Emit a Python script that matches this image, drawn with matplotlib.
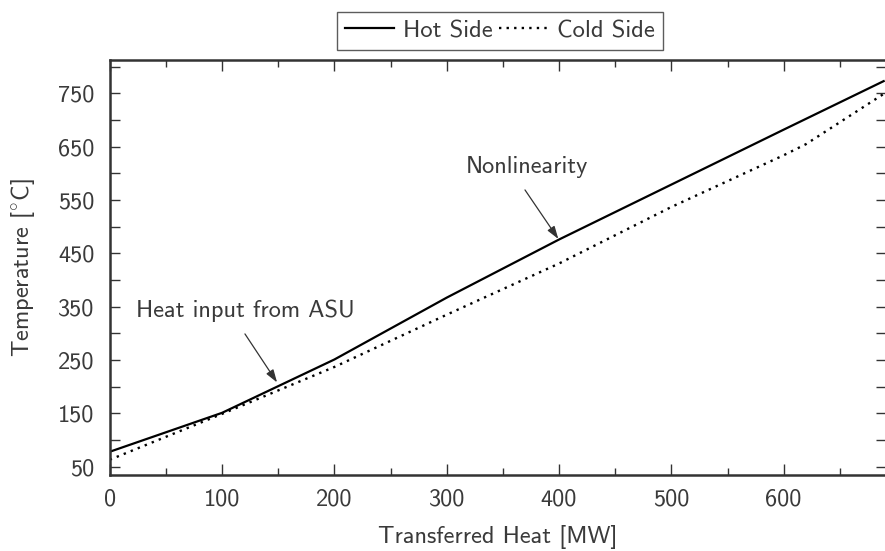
import matplotlib
matplotlib.use("Agg")
import matplotlib.pyplot as plt
from matplotlib.ticker import MultipleLocator, FixedLocator

# ---- data ----
heat_hot = [0, 100, 200, 300, 400, 500, 600, 689]
temp_hot = [78, 151, 251, 367, 476, 579, 682, 773]
heat_cold = [0, 100, 200, 300, 400, 500, 600, 620, 689]
temp_cold = [63, 149, 237, 335, 431, 537, 634, 655, 749]
series_names = ["Hot Side", "Cold Side"]
x_label = "Transferred Heat [MW]"
y_label = r"Temperature [$^{\circ}$C]"
x_ticks = [0, 100, 200, 300, 400, 500, 600]
y_ticks = [50, 150, 250, 350, 450, 550, 650, 750]
# (text, text position, arrow start, arrow tip) in data units
annot_texts = ["Heat input from ASU", "Nonlinearity"]
annot_text_pos = [(120.5, 342), (371, 612)]
annot_arrow_start = [(120.4, 299), (369.7, 569)]
annot_arrow_tip = [(149, 208), (399.4, 477)]

TXT = "#3a3a3a"
FS = 17.5
plt.rcParams["font.family"] = ["cmss10", "DejaVu Sans"]
plt.rcParams["mathtext.fontset"] = "cm"
plt.rcParams["axes.unicode_minus"] = False
plt.rcParams["font.size"] = FS

W, H = 885, 551
fig = plt.figure(figsize=(W / 100, H / 100), dpi=100)
left, right, top, bottom = 109.7, 885.5, 60, 475
ax = fig.add_axes([left / W, 1 - bottom / H, (right - left) / W, (bottom - top) / H])

ax.plot(heat_hot, temp_hot, color="black", lw=1.6, label=series_names[0])
ax.plot(heat_cold, temp_cold, color="black", lw=1.7, ls=(0, (1, 2.2)), label=series_names[1])

ax.set_xlim(0, (right - left) / 1.1233)
ax.set_ylim(50 - (bottom - 466.7) / 0.5333, 50 + (466.7 - top) / 0.5333)

ax.xaxis.set_major_locator(FixedLocator(x_ticks))
ax.xaxis.set_minor_locator(MultipleLocator(50))
ax.yaxis.set_major_locator(FixedLocator(y_ticks))
ax.yaxis.set_minor_locator(MultipleLocator(50))

ax.tick_params(which="both", direction="in", top=True, right=True,
               color="#333333", width=1.0, labelcolor=TXT)
ax.tick_params(axis="x", which="major", length=8, pad=10)
ax.tick_params(axis="x", which="minor", length=5)
ax.tick_params(axis="y", which="major", length=7.5, pad=11)
ax.tick_params(axis="y", which="minor", length=7)
for s in ax.spines.values():
    s.set_color("#333333")
    s.set_linewidth(1.8)

ax.set_xlabel(x_label, color=TXT, labelpad=10)
ax.set_ylabel(y_label, color=TXT, labelpad=15)

for text, tpos, a0, a1 in zip(annot_texts, annot_text_pos, annot_arrow_start, annot_arrow_tip):
    ax.text(tpos[0], tpos[1], text, color=TXT, ha="center", va="center")
    ax.annotate("", xy=a1, xytext=a0,
                arrowprops=dict(arrowstyle="-|>,head_length=0.55,head_width=0.18",
                                color="#333333", lw=0.9,
                                mutation_scale=14, shrinkA=0, shrinkB=0))

leg = ax.legend(loc="lower center", bbox_to_anchor=(0.503, 1.0), ncol=2,
                frameon=True, fancybox=False, edgecolor="#333333",
                handlelength=2.0, handletextpad=0.35, columnspacing=0.25,
                borderaxespad=0.4, borderpad=0.33, labelcolor=TXT,
                fontsize=FS + 0.2)
leg.get_frame().set_linewidth(1.0)

fig.savefig("out.png", dpi=100)
